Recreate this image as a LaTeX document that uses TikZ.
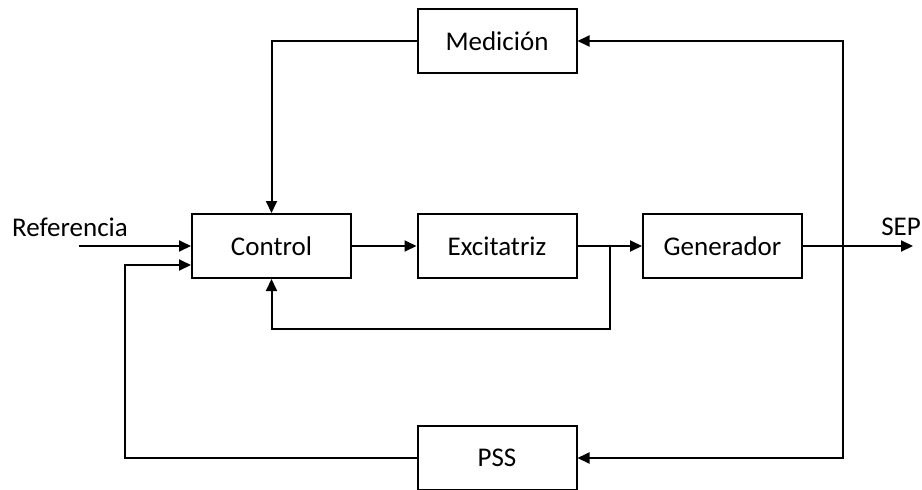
\documentclass[tikz,border=0pt]{standalone}
\usepackage{fontspec}
\setmainfont{Carlito}
\usetikzlibrary{arrows.meta}
\begin{document}
\begin{tikzpicture}[x=1pt,y=-1pt,
  blk/.style={draw,line width=2pt,minimum width=159pt,minimum height=64pt,inner sep=0pt,font=\fontsize{27}{31}\selectfont},
  lbl/.style={font=\fontsize{27}{31}\selectfont,inner sep=0pt},
  conn/.style={line width=2pt},
  arr/.style={conn,-{Triangle[length=12pt,width=11pt]}},
  dbl/.style={conn,{Triangle[length=12pt,width=11pt]}-{Triangle[length=12pt,width=11pt]}}]
\useasboundingbox (0,0) rectangle (922,490);
\node[blk] (med) at (497,41) {Medición};
\node[blk] (ctl) at (271.5,246) {Control};
\node[blk] (exc) at (497,246) {Excitatriz};
\node[blk] (gen) at (722.5,246) {Generador};
\node[blk] (pss) at (497,458) {PSS};
\node[lbl,anchor=base west] (ref) at (12,236) {Referencia};
\node[lbl,anchor=base east] (seplbl) at (921,235) {SEP};
\coordinate (rin) at (79,246);
\coordinate (br) at (610,246);
\coordinate (bl) at (610,329);
\coordinate (sep) at (913,246);
\coordinate (rt) at (843,41);
\coordinate (rb) at (843,458);
\coordinate (lt) at (125,265);
% connectors
\draw[arr] (med.west) -| (ctl.north);
\draw[arr] (rin) -- (rin -| ctl.west);
\draw[arr] (ctl.east) -- (exc.west);
\draw[arr] (exc.east) -- (gen.west);
\draw[arr] (br) -- (bl) -| (ctl.south);
\draw[arr] (gen.east) -- (sep);
\draw[dbl] (med.east) -- (rt) -- (rb) -- (pss.east);
\draw[arr] (pss.west) -| (lt) -- (lt -| ctl.west);
\end{tikzpicture}
\end{document}
